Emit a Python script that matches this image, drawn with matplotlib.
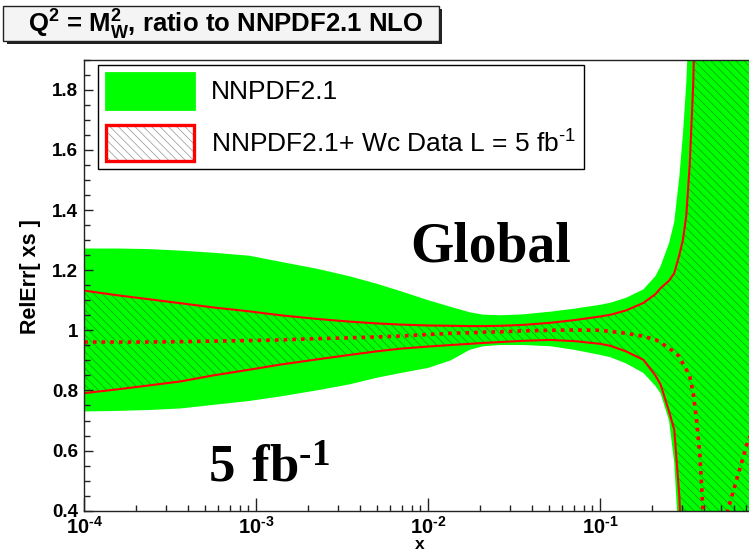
import numpy as np
import matplotlib
matplotlib.use('Agg')
import matplotlib.pyplot as plt
from matplotlib.patches import Patch, Rectangle
from matplotlib.ticker import MultipleLocator, LogLocator, FuncFormatter, NullFormatter

plt.rcParams['font.family'] = ['Liberation Sans', 'DejaVu Sans']
plt.rcParams['mathtext.fontset'] = 'custom'
plt.rcParams['mathtext.rm'] = 'Liberation Sans'
plt.rcParams['mathtext.bf'] = 'Liberation Sans:bold'
plt.rcParams['mathtext.sf'] = 'Liberation Serif:bold'
plt.rcParams['hatch.linewidth'] = 0.5

HY = '\u2010'  # short hyphen for the exponents

# x values (log scale)
x = [1.0e-4, 1.58e-4, 2.4e-4, 3.63e-4, 5.62e-4, 9.12e-4, 1.38e-3, 2.24e-3, 3.47e-3, 5.01e-3,
     6.92e-3, 1.0e-2, 1.35e-2, 1.74e-2, 2.09e-2, 2.63e-2, 3.55e-2, 5.13e-2, 7.08e-2, 0.100,
     0.115, 0.141, 0.178, 0.209, 0.224, 0.251, 0.269, 0.288, 0.302, 0.316,
     0.331, 0.347, 0.363, 0.380, 0.398, 0.468, 0.550, 0.724, 1.0]

# NNPDF2.1 band
green_hi = [1.272, 1.272, 1.270, 1.265, 1.258, 1.248, 1.228, 1.205, 1.180, 1.155,
            1.130, 1.100, 1.078, 1.060, 1.052, 1.050, 1.053, 1.062, 1.072, 1.085,
            1.092, 1.108, 1.136, 1.180, 1.213, 1.290, 1.360, 1.510, 1.650, 1.820,
            2.1, 2.5, 3.0, 3.5, 4.0, 5.0, 6.0, 7.0, 8.0]
green_lo = [0.730, 0.732, 0.735, 0.740, 0.752, 0.765, 0.780, 0.800, 0.820, 0.842,
            0.858, 0.875, 0.900, 0.935, 0.947, 0.951, 0.951, 0.947, 0.935, 0.918,
            0.910, 0.890, 0.858, 0.815, 0.790, 0.700, 0.560, 0.270, -0.100, -0.500,
            -1.0, -1.5, -2.0, -2.5, -3.0, -4.0, -5.0, -6.0, -7.0]

# NNPDF2.1 + Wc data, L = 5 fb^-1
red_hi = [1.132, 1.116, 1.103, 1.090, 1.076, 1.063, 1.050, 1.038, 1.029, 1.023,
          1.019, 1.016, 1.015, 1.014, 1.014, 1.015, 1.018, 1.025, 1.034, 1.046,
          1.052, 1.066, 1.091, 1.120, 1.140, 1.165, 1.190, 1.250, 1.300, 1.380,
          1.55, 1.82, 2.3, 2.8, 3.3, 4.3, 5.3, 6.3, 7.3]
red_lo = [0.791, 0.804, 0.817, 0.830, 0.850, 0.869, 0.886, 0.903, 0.918, 0.930,
          0.939, 0.946, 0.951, 0.955, 0.958, 0.961, 0.965, 0.968, 0.964, 0.955,
          0.948, 0.930, 0.902, 0.850, 0.820, 0.730, 0.670, 0.450, 0.150, -0.100,
          -0.5, -1.0, -1.5, -2.0, -2.5, -3.5, -4.5, -5.5, -6.5]
central = [0.961, 0.961, 0.961, 0.962, 0.964, 0.966, 0.968, 0.972, 0.975, 0.978,
           0.981, 0.986, 0.990, 0.992, 0.994, 0.995, 0.998, 1.000, 1.001, 1.000,
           0.996, 0.990, 0.980, 0.969, 0.960, 0.940, 0.928, 0.913, 0.890, 0.870,
           0.847, 0.790, 0.700, 0.580, 0.370, 0.100, 0.400, 0.635, 0.800]

green = '#00ff00'
hatch_col = (0.1, 0.3, 0.1, 0.55)

W, H = 749, 555
fig = plt.figure(figsize=(W / 100, H / 100), dpi=100)
fig.patch.set_facecolor('white')
# axes run to x=1, the right part is cut off by the figure edge
ax = fig.add_axes([84.3 / W, 44.3 / H, 688 / W, 451 / H])

ax.fill_between(x, green_lo, green_hi, color=green, lw=0)
ax.fill_between(x, red_lo, red_hi, facecolor='none', edgecolor=hatch_col, lw=0,
                hatch='\\\\\\\\')
ax.plot(x, red_hi, color='red', lw=1.5)
ax.plot(x, red_lo, color='red', lw=1.5)
ax.plot(x, central, color='red', lw=2.6, ls=(0, (1.0, 1.4)))

ax.set_xscale('log')
ax.set_xlim(1e-4, 1)
ax.set_ylim(0.4, 1.9)


def xfmt(v, p):
    e = round(np.log10(v))
    if e >= 0:
        return ''
    return r'$\mathbf{10^{%s%d}}$' % (HY, -e)


ax.xaxis.set_major_locator(LogLocator(base=10, numticks=10))
ax.xaxis.set_minor_locator(LogLocator(base=10, subs=np.arange(2, 10), numticks=20))
ax.xaxis.set_major_formatter(FuncFormatter(xfmt))
ax.xaxis.set_minor_formatter(NullFormatter())
ax.yaxis.set_major_locator(MultipleLocator(0.2))
ax.yaxis.set_minor_locator(MultipleLocator(0.05))
ax.yaxis.set_major_formatter(FuncFormatter(lambda v, p: '%g' % round(v, 2)))

ax.tick_params(axis='both', which='both', direction='in', top=False, right=False,
               color='#222222')
ax.tick_params(axis='x', which='major', length=9.4, width=1, labelsize=14.5, pad=3.5)
ax.tick_params(axis='x', which='minor', length=4.6, width=1)
ax.tick_params(axis='y', which='major', length=6.5, width=1, labelsize=13.5, pad=4.3)
ax.tick_params(axis='y', which='minor', length=4.5, width=1)
for lab in ax.get_yticklabels():
    lab.set_fontweight('bold')
for sp in ax.spines.values():
    sp.set_color('#222222')
    sp.set_linewidth(1)

ax.set_xlabel('x', fontsize=12.5, fontweight='bold')
ax.xaxis.set_label_coords((420 - 84.3) / 688, -0.058)
ax.set_ylabel('RelErr[ xs ]', fontsize=15.5, fontweight='bold')
ax.yaxis.set_label_coords((41 - 84.3) / 688, 0.52)

# legend
h_green = Patch(facecolor=green, edgecolor=green, lw=2, joinstyle='round')
h_hatch = Patch(facecolor='white', edgecolor=(0.3, 0.3, 0.3, 0.6), lw=0, hatch='\\\\\\\\')
h_red = Patch(facecolor='none', edgecolor='red', lw=2.4, joinstyle='round')
leg = ax.legend([h_green, (h_hatch, h_red)],
                ['NNPDF2.1', r'NNPDF2.1+ Wc Data L = 5 fb$^{%s1}$' % HY],
                loc='upper left', bbox_to_anchor=((98 - 84.3) / 688, (510.7 - 65) / 451),
                borderaxespad=0, fontsize=19, handlelength=3.35, handleheight=1.72,
                handletextpad=0.62, labelspacing=0.6, borderpad=0.3,
                fancybox=False, framealpha=1, edgecolor='black')
leg.get_frame().set_linewidth(1)

ax.text((410 - 84.3) / 688, (510.7 - 261.7) / 451, 'Global', transform=ax.transAxes,
        family='Liberation Serif', fontweight='bold', fontsize=40, va='baseline')
ax.text((208 - 84.3) / 688, (510.7 - 481.7) / 451, r'$\mathsf{5\ fb^{%s1}}$' % HY,
        transform=ax.transAxes, fontsize=38, va='baseline')

# title box with shadow
fig.patches.append(Rectangle((6.5 / W, 1 - 43.7 / H), 435.5 / W, 34.7 / H,
                             transform=fig.transFigure, facecolor='#222222', lw=0))
fig.patches.append(Rectangle((3.5 / W, 1 - 40.7 / H), 435.5 / W, 34.7 / H,
                             transform=fig.transFigure, facecolor='#f4f4f4',
                             edgecolor='#222222', lw=1))
fig.text(225.5 / W, 1 - 33 / H,
         r'$\mathbf{Q^{2}}$ = $\mathbf{M^{2}_{W}}$, ratio to NNPDF2.1 NLO',
         ha='center', va='baseline', fontsize=18.5, fontweight='bold')

fig.savefig('out.png', dpi=100)
